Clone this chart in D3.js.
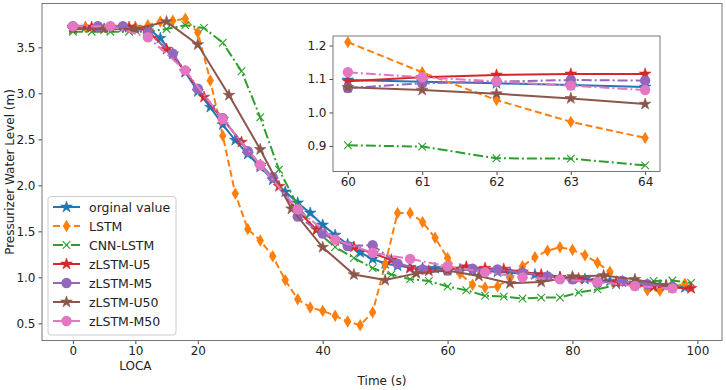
<!DOCTYPE html>
<html>
<head>
<meta charset="utf-8">
<script src="https://cdn.jsdelivr.net/npm/d3@7"></script>
<style>
    body { margin: 0; background: #fff; }
    text { font-family: "DejaVu Sans", sans-serif; fill: #222; }
</style>
</head>
<body>
<div id="viz"></div>
<script>
// ---- data ----
const seriesNames = ['orginal value', 'LSTM', 'CNN-LSTM', 'zLSTM-U5', 'zLSTM-M5', 'zLSTM-U50', 'zLSTM-M50'];

const tOrig = [0,2,4,6,8,10,12,14,16,18,20,22,24,26,28,30,32,34,36,38,40,42,44,46,48,50,52,54,56,58,60,62,64,66,68,70,72,74,76,78,80,82,84,86,88,90,92,94,96,98];
const vOrig = [3.72,3.72,3.72,3.72,3.72,3.72,3.71,3.60,3.43,3.23,3.02,2.85,2.66,2.49,2.34,2.20,2.06,1.93,1.81,1.70,1.57,1.46,1.36,1.27,1.20,1.15,1.125,1.11,1.10,1.10,1.097,1.087,1.076,1.07,1.06,1.05,1.04,1.03,1.01,1.00,0.99,0.98,0.97,0.96,0.95,0.94,0.92,0.91,0.90,0.89];

const tLstm = [0,2,4,6,8,10,12,14,16,18,20,22,24,26,28,30,32,34,36,38,40,42,44,46,48,50,52,54,56,58,60,62,64,66,68,70,72,74,76,78,80,82,84,86,88,90,92,94,96,98];
const vLstm = [3.72,3.72,3.72,3.72,3.72,3.72,3.74,3.78,3.79,3.81,3.66,3.14,2.54,1.91,1.525,1.40,1.23,0.97,0.762,0.673,0.636,0.582,0.52,0.48,0.62,1.14,1.70,1.70,1.60,1.43,1.21,1.04,0.92,0.89,0.90,0.99,1.12,1.22,1.29,1.327,1.30,1.24,1.159,1.06,0.96,0.92,0.86,0.855,0.89,0.93];

const tCnn = [0,3,6,9,12,15,18,21,24,27,30,33,36,39,42,45,48,51,54,57,60,63,66,69,72,75,78,81,84,87,90,93,96,99];
const vCnn = [3.67,3.67,3.67,3.67,3.67,3.70,3.74,3.71,3.55,3.24,2.74,2.17,1.78,1.50,1.33,1.21,1.10,1.03,0.98,0.96,0.90,0.86,0.80,0.79,0.77,0.78,0.78,0.835,0.87,0.917,0.943,0.96,0.965,0.94];

const tU5 = [0,3,6,9,12,15,18,21,24,27,30,33,36,39,42,45,48,51,54,57,60,63,66,69,72,75,78,81,84,87,90,93,96,99];
const vU5 = [3.72,3.72,3.72,3.72,3.68,3.48,3.24,2.96,2.72,2.47,2.22,1.99,1.72,1.52,1.40,1.33,1.26,1.19,1.10,1.07,1.093,1.115,1.10,1.09,1.06,1.03,1.00,0.985,0.96,0.945,0.915,0.90,0.89,0.88];

const tM5 = [0,4,8,12,16,20,24,28,32,36,40,44,48,52,56,60,64,68,72,76,80,84,88,92,96];
const vM5 = [3.73,3.73,3.73,3.66,3.43,3.05,2.73,2.37,2.09,1.66,1.475,1.34,1.35,1.148,1.086,1.073,1.095,1.086,1.05,1.01,0.978,0.943,0.96,0.925,0.895];

const tU50 = [0,5,10,15,20,25,30,35,40,45,50,55,60,65,70,75,80,85,90,95];
const vU50 = [3.70,3.70,3.70,3.78,3.53,2.98,2.39,1.745,1.327,1.03,0.97,1.043,1.075,1.015,0.935,0.95,1.008,1.02,0.978,0.913];

const tM50 = [0,6,12,18,24,30,36,42,48,54,60,66,72,78,84,90,96];
const vM50 = [3.73,3.73,3.61,3.25,2.72,2.22,1.74,1.41,1.267,1.20,1.12,1.057,1.00,0.978,0.95,0.906,0.88];

// zoomed inset, t = 60..64
const tInset = [60,61,62,63,64];
const insetOrig = [1.097,1.092,1.087,1.082,1.076];
const insetLstm = [1.21,1.12,1.037,0.972,0.924];
const insetCnn  = [0.902,0.898,0.863,0.862,0.842];
const insetU5   = [1.093,1.105,1.112,1.115,1.115];
const insetM5   = [1.073,1.087,1.092,1.097,1.095];
const insetU50  = [1.075,1.067,1.056,1.042,1.025];
const insetM50  = [1.12,1.105,1.093,1.08,1.067];

const xTicks = [0,10,20,40,60,80,100];
const yTicks = [0.5,1.0,1.5,2.0,2.5,3.0,3.5];
const insetXTicks = [60,61,62,63,64];
const insetYTicks = [0.9,1.0,1.1,1.2];

// ---- styles ----
const colors  = ['#1f77b4','#ff7f0e','#2ca02c','#d62728','#9467bd','#8c564b','#e377c2'];
const dashes  = [null, '7,3.5', '10,3,2,3', null, '10,3,2,3', null, '10,3,2,3'];
const markers = ['star','diamond','x','star','circle','star','circle'];

const mainT = [tOrig,tLstm,tCnn,tU5,tM5,tU50,tM50];
const mainV = [vOrig,vLstm,vCnn,vU5,vM5,vU50,vM50];
const insetV = [insetOrig,insetLstm,insetCnn,insetU5,insetM5,insetU50,insetM50];

const width = 726, height = 390;
const svg = d3.select('#viz').append('svg').attr('width', width).attr('height', height);

function padded(lo, hi) { let p = (hi - lo) * 0.05; return [lo - p, hi + p]; }

function addMarker(g, type, color) {
    if (type === 'star') {
        g.append('path').attr('d', d3.symbol(d3.symbolStar, 42)())
            .attr('fill', color).attr('stroke', color).attr('stroke-width', 0.6);
    } else if (type === 'circle') {
        g.append('circle').attr('r', 5.2).attr('fill', color);
    } else if (type === 'diamond') {
        g.append('path').attr('d', 'M0,-6.2L3.7,0L0,6.2L-3.7,0Z').attr('fill', color);
    } else {
        g.append('path').attr('d', 'M-3.8,-3.8L3.8,3.8M-3.8,3.8L3.8,-3.8')
            .attr('stroke', color).attr('stroke-width', 1.1).attr('fill', 'none');
    }
}

function drawSeries(g, x, y, ts, vs, i) {
    let pts = ts.map((t, k) => [t, vs[k]]);
    let line = d3.line().x(d => x(d[0])).y(d => y(d[1]));
    g.append('path').datum(pts)
        .attr('d', line)
        .attr('fill', 'none')
        .attr('stroke', colors[i])
        .attr('stroke-width', 2)
        .attr('stroke-dasharray', dashes[i]);
    g.selectAll(null).data(pts).join('g')
        .attr('transform', d => `translate(${x(d[0])},${y(d[1])})`)
        .each(function() { addMarker(d3.select(this), markers[i], colors[i]); });
}

function styleAxis(ax) {
    ax.select('.domain').remove();
    ax.selectAll('line').attr('stroke', '#333').attr('stroke-width', 0.9);
    ax.selectAll('text').style('font-size', '12px').attr('fill', '#222');
}

// ---- main axes ----
const plot = { left: 42, right: 722, top: 3.5, bottom: 340.5 };
const allT = mainT.flat(), allV = mainV.flat();
const x = d3.scaleLinear().domain(padded(d3.min(allT), d3.max(allT))).range([plot.left, plot.right]);
const y = d3.scaleLinear().domain(padded(d3.min(allV), d3.max(allV))).range([plot.bottom, plot.top]);

let gx = svg.append('g').attr('transform', `translate(0,${plot.bottom})`)
    .call(d3.axisBottom(x).tickValues(xTicks).tickFormat(d3.format('d')).tickSize(3.5).tickPadding(2));
styleAxis(gx);
let gy = svg.append('g').attr('transform', `translate(${plot.left},0)`)
    .call(d3.axisLeft(y).tickValues(yTicks).tickFormat(d3.format('.1f')).tickSize(3.5).tickPadding(3));
styleAxis(gy);

const lines = svg.append('g');
mainT.forEach((ts, i) => drawSeries(lines, x, y, ts, mainV[i], i));

svg.append('rect').attr('x', plot.left).attr('y', plot.top)
    .attr('width', plot.right - plot.left).attr('height', plot.bottom - plot.top)
    .attr('fill', 'none').attr('stroke', '#777').attr('stroke-width', 1);

svg.append('text').attr('x', x(10)).attr('y', 370).attr('text-anchor', 'middle')
    .style('font-size', '12px').text('LOCA');
svg.append('text').attr('x', (plot.left + plot.right) / 2).attr('y', 385).attr('text-anchor', 'middle')
    .style('font-size', '12px').text('Time (s)');
svg.append('text').attr('transform', `translate(14,${(plot.top + plot.bottom) / 2}) rotate(-90)`)
    .attr('text-anchor', 'middle').style('font-size', '12px').text('Pressurizer Water Level (m)');

// ---- inset ----
const ins = { left: 333, right: 660, top: 36, bottom: 171.5 };
const xi = d3.scaleLinear().domain(padded(60, 64)).range([ins.left, ins.right]);
const insAll = insetV.flat();
const yi = d3.scaleLinear().domain(padded(d3.min(insAll), d3.max(insAll))).range([ins.bottom, ins.top]);

svg.append('rect').attr('x', ins.left).attr('y', ins.top)
    .attr('width', ins.right - ins.left).attr('height', ins.bottom - ins.top).attr('fill', '#fff');
let gxi = svg.append('g').attr('transform', `translate(0,${ins.bottom})`)
    .call(d3.axisBottom(xi).tickValues(insetXTicks).tickFormat(d3.format('d')).tickSize(3.5).tickPadding(2));
styleAxis(gxi);
let gyi = svg.append('g').attr('transform', `translate(${ins.left},0)`)
    .call(d3.axisLeft(yi).tickValues(insetYTicks).tickFormat(d3.format('.1f')).tickSize(3.5).tickPadding(3));
styleAxis(gyi);
const insLines = svg.append('g');
insetV.forEach((vs, i) => drawSeries(insLines, xi, yi, tInset, vs, i));
svg.append('rect').attr('x', ins.left).attr('y', ins.top)
    .attr('width', ins.right - ins.left).attr('height', ins.bottom - ins.top)
    .attr('fill', 'none').attr('stroke', '#777').attr('stroke-width', 1);

// ---- legend ----
const leg = svg.append('g').attr('transform', 'translate(48,196.5)');
leg.append('rect').attr('width', 128).attr('height', 138.5).attr('rx', 3)
    .attr('fill', '#fff').attr('fill-opacity', 0.85).attr('stroke', '#ccc');
seriesNames.forEach((name, i) => {
    let row = leg.append('g').attr('transform', `translate(0,${10.5 + i * 19})`);
    row.append('line').attr('x1', 5).attr('x2', 32)
        .attr('stroke', colors[i]).attr('stroke-width', 2).attr('stroke-dasharray', dashes[i]);
    let mk = row.append('g').attr('transform', 'translate(18.5,0)');
    addMarker(mk, markers[i], colors[i]);
    row.append('text').attr('x', 41).attr('y', 4.5).style('font-size', '12.5px').text(name);
});
</script>
</body>
</html>
